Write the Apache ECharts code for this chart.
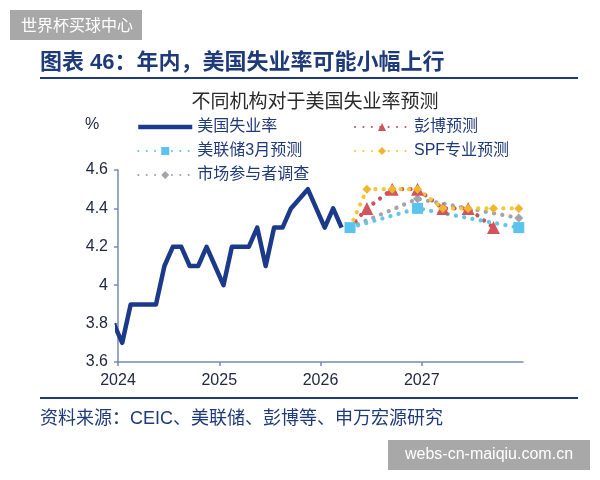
<!DOCTYPE html>
<html>
<head>
<meta charset="utf-8">
<script src="https://cdn.jsdelivr.net/npm/echarts@6/dist/echarts.min.js"></script>
<style>
  html, body { margin: 0; padding: 0; background: #fff; }
  #chart { width: 600px; height: 480px; }
</style>
</head>
<body>
<div id="chart"></div>
<script>
// 美国失业率 (月度)
var rateMonths = ["2023-12",
  "2024-01","2024-02","2024-03","2024-04","2024-05","2024-06","2024-07","2024-08","2024-09","2024-10","2024-11","2024-12",
  "2025-01","2025-02","2025-03","2025-04","2025-05","2025-06","2025-07","2025-08","2025-09",
  "2025-11","2025-12","2026-01","2026-02","2026-03"];
var rateValues = [3.8,
  3.7,3.9,3.9,3.9,3.9,4.1,4.2,4.2,4.1,4.1,4.2,4.1,
  4.0,4.2,4.2,4.2,4.3,4.1,4.3,4.3,4.4,
  4.5,4.4,4.3,4.4,4.3];

// 各机构预测
var fedMonths = ["2026-04","2026-12","2027-12"];
var fedValues = [4.3,4.4,4.3];
var bbgMonths = ["2026-04","2026-06","2026-09","2026-12","2027-03","2027-06","2027-09"];
var bbgValues = [4.3,4.4,4.5,4.5,4.4,4.4,4.3];
var spfMonths = ["2026-04","2026-06","2026-09","2026-12","2027-03","2027-06","2027-09","2027-12"];
var spfValues = [4.3,4.5,4.5,4.5,4.4,4.4,4.4,4.4];
var surveyMonths = ["2026-04","2026-12","2027-12"];
var surveyValues = [4.3,4.45,4.35];

var yearTicks = [2024, 2025, 2026, 2027, 2028];

var FONT = "'Liberation Sans', 'Noto Sans CJK SC', sans-serif";
var CJK = "'Noto Sans CJK SC', sans-serif";
var NAVY = "#1f3a7a";

// "2024-01" -> 年份小数 (取月中)
function toYear(m) {
  var p = m.split("-");
  return +p[0] + (+p[1] - 0.5) / 12;
}
function pairs(months, values) {
  return months.map(function (m, i) { return [toYear(m), values[i]]; });
}
// 预测线起点不画标记
function forecast(months, values) {
  return pairs(months, values).map(function (d, i) {
    return i === 0 ? { value: d, symbol: "none" } : d;
  });
}
function dotted(color) {
  return { color: color, width: 4.2, type: [0.1, 8.3], cap: "round" };
}

var myChart = echarts.init(document.getElementById("chart"));
var legendText = { fontSize: 16, lineHeight: 16, color: NAVY, fontFamily: FONT };
var option = {
  backgroundColor: "#fff",
  animation: false,
  textStyle: { fontFamily: FONT },
  grid: { left: 118, right: 77, top: 170, bottom: 118 },
  legend: [
    {
      left: 136, top: 119, orient: "vertical", padding: 0,
      itemWidth: 54, itemHeight: 10, itemGap: 8,
      textStyle: legendText,
      data: [
        { name: "美国失业率", lineStyle: { width: 4.5 } },
        "美联储3月预测",
        "市场参与者调查"
      ]
    },
    {
      left: 354, top: 119, orient: "vertical", padding: 0,
      itemWidth: 54, itemHeight: 10, itemGap: 8,
      textStyle: legendText,
      data: ["彭博预测", "SPF专业预测"]
    }
  ],
  xAxis: {
    type: "value",
    min: yearTicks[0],
    max: yearTicks[yearTicks.length - 1],
    interval: 1,
    axisLine: { lineStyle: { color: "#7a8bb0", width: 1.5 } },
    axisTick: { show: true, length: 4, lineStyle: { color: "#7a8bb0", width: 1.5 } },
    axisLabel: {
      showMaxLabel: false, margin: 11, fontSize: 16, color: "#222a40",
      formatter: function (v) { return String(v); }
    },
    splitLine: { show: false }
  },
  yAxis: {
    type: "value",
    min: 3.6, max: 4.6, interval: 0.2,
    axisLine: { show: true, lineStyle: { color: "#7a8bb0", width: 1.5 } },
    axisTick: { show: true, length: 4, lineStyle: { color: "#7a8bb0", width: 1.5 } },
    axisLabel: { fontSize: 16, color: "#222a40", margin: 10 },
    splitLine: { show: false }
  },
  series: [
    {
      name: "美国失业率", type: "line",
      data: pairs(rateMonths, rateValues),
      showSymbol: false, symbol: "none",
      lineStyle: { color: "#1b3a8a", width: 4.5, join: "round" },
      itemStyle: { color: "rgba(0,0,0,0)" }
    },
    {
      name: "市场参与者调查", type: "line",
      data: forecast(surveyMonths, surveyValues),
      symbol: "diamond", symbolSize: 9,
      lineStyle: dotted("#a3a3ab"),
      itemStyle: { color: "#a3a3ab" }
    },
    {
      name: "彭博预测", type: "line",
      data: forecast(bbgMonths, bbgValues),
      symbol: "triangle", symbolSize: 13,
      lineStyle: dotted("#c9535d"),
      itemStyle: { color: "#d2545c" }
    },
    {
      name: "SPF专业预测", type: "line",
      data: forecast(spfMonths, spfValues),
      symbol: "diamond", symbolSize: 9,
      lineStyle: dotted("#f2c83a"),
      itemStyle: { color: "#f2b52e" }
    },
    {
      name: "美联储3月预测", type: "line",
      data: pairs(fedMonths, fedValues),
      symbol: "rect", symbolSize: 11,
      lineStyle: dotted("#62c6e8"),
      itemStyle: { color: "#5cc4ec" }
    }
  ],
  graphic: [
    { type: "rect", shape: { x: 10, y: 10, width: 132, height: 30 }, style: { fill: "#a8a8a8" } },
    { type: "text", x: 21, y: 25, style: { text: "世界杯买球中心", fill: "#fff", font: "16px " + CJK, verticalAlign: "middle" } },
    { type: "text", x: 40, y: 63, style: { text: "图表 46：年内，美国失业率可能小幅上行", fill: NAVY, font: "bold 22px " + FONT, verticalAlign: "middle" } },
    { type: "line", shape: { x1: 40, y1: 78, x2: 578, y2: 78 }, style: { stroke: NAVY, lineWidth: 2 } },
    { type: "text", x: 315, y: 101, style: { text: "不同机构对于美国失业率预测", fill: "#2a2a2a", font: "19px " + CJK, align: "center", verticalAlign: "middle" } },
    { type: "text", x: 85, y: 125, style: { text: "%", fill: "#222a40", font: "16px " + FONT, verticalAlign: "middle" } },
    { type: "line", shape: { x1: 40, y1: 398, x2: 578, y2: 398 }, style: { stroke: NAVY, lineWidth: 2 } },
    { type: "text", x: 40, y: 419, style: { text: "资料来源：CEIC、美联储、彭博等、申万宏源研究", fill: NAVY, font: "18px " + FONT, verticalAlign: "middle" } },
    { type: "rect", shape: { x: 388, y: 440, width: 202, height: 30 }, style: { fill: "#a8a8a8" } },
    { type: "text", x: 489, y: 455, style: { text: "webs-cn-maiqiu.com.cn", fill: "#fff", font: "16px " + FONT, align: "center", verticalAlign: "middle" } }
  ]
};
myChart.setOption(option);
</script>
</body>
</html>
